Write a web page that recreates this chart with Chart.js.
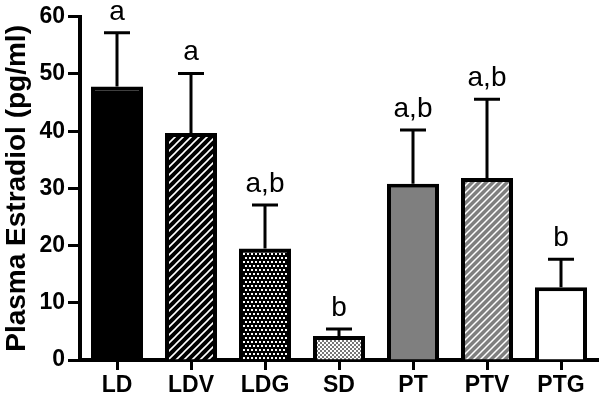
<!DOCTYPE html>
<html>
<head>
<meta charset="utf-8">
<script src="https://cdn.jsdelivr.net/npm/chart.js@4.4.1/dist/chart.umd.min.js"></script>
<style>
  body { margin: 0; background: #fff; }
  canvas { display: block; }
</style>
</head>
<body>
<canvas id="estradiol" width="600" height="394"></canvas>
<script>
// groups and values
const groups = ["LD", "LDV", "LDG", "SD", "PT", "PTV", "PTG"];
const means = [47.8, 39.7, 19.5, 4.2, 30.8, 31.8, 12.7];
const errors = [9.4, 10.4, 7.6, 1.2, 9.4, 13.8, 4.9];
const letters = ["a", "a", "a,b", "b", "a,b", "a,b", "b"];
const yMin = 0, yMax = 60, yStep = 10;

const FONT = "Arial, 'Liberation Sans', sans-serif";

// small helper to make a fill pattern from a tile
function makePattern(size, draw) {
  const c = document.createElement("canvas");
  c.width = size;
  c.height = size;
  const g = c.getContext("2d");
  draw(g, size);
  return c.getContext("2d").createPattern(c, "repeat");
}

function stripes(bg, size, lw) {
  return makePattern(size, function (g, s) {
    g.fillStyle = bg;
    g.fillRect(0, 0, s, s);
    g.strokeStyle = "#fff";
    g.lineWidth = lw;
    g.beginPath();
    g.moveTo(0, s); g.lineTo(s, 0);
    g.moveTo(-2, 2); g.lineTo(2, -2);
    g.moveTo(s - 2, s + 2); g.lineTo(s + 2, s - 2);
    g.stroke();
  });
}

const dotsDark = makePattern(8, function (g, s) {
  g.fillStyle = "#000";
  g.fillRect(0, 0, s, s);
  g.fillStyle = "#fff";
  g.fillRect(1, 1, 2, 2);
  g.fillRect(5, 1, 2, 2);
  g.fillRect(3, 5, 2, 2);
  g.fillRect(7, 5, 1, 2);
  g.fillRect(0, 5, 1, 2);
});

const dotsLight = makePattern(4, function (g, s) {
  g.fillStyle = "#777";
  g.fillRect(0, 0, s, s);
  g.fillStyle = "#fff";
  g.fillRect(0, 0, 2, 2);
  g.fillRect(2, 2, 2, 2);
});

const fills = [
  "#000",
  stripes("#000", 8, 1.6),
  dotsDark,
  dotsLight,
  "#7f7f7f",
  stripes("#7f7f7f", 7, 1.5),
  "#fff",
];

// error bars (upper only) + significance letters
const errorBarPlugin = {
  id: "errorBars",
  afterDatasetsDraw(chart) {
    const ctx = chart.ctx;
    const y = chart.scales.y;
    const meta = chart.getDatasetMeta(0);
    ctx.save();
    ctx.strokeStyle = "#000";
    ctx.lineWidth = 3;
    meta.data.forEach(function (bar, i) {
      const top = y.getPixelForValue(means[i] + errors[i]);
      const base = y.getPixelForValue(means[i]);
      ctx.beginPath();
      ctx.moveTo(bar.x, base);
      ctx.lineTo(bar.x, top);
      ctx.moveTo(bar.x - 13, top);
      ctx.lineTo(bar.x + 13, top);
      ctx.stroke();
      ctx.fillStyle = "#000";
      ctx.font = "28px " + FONT;
      ctx.textAlign = "center";
      ctx.textBaseline = "alphabetic";
      ctx.fillText(letters[i], bar.x, top - 13);
    });
    ctx.restore();
  },
};

new Chart(document.getElementById("estradiol"), {
  type: "bar",
  data: {
    labels: groups,
    datasets: [
      {
        data: means,
        backgroundColor: fills,
        borderColor: "#000",
        borderWidth: 4,
        borderSkipped: "bottom",
        inflateAmount: 0,
        barPercentage: 52 / 74,
        categoryPercentage: 1,
      },
    ],
  },
  options: {
    responsive: false,
    devicePixelRatio: 1,
    animation: false,
    layout: { padding: { top: 15, right: 2, left: 0, bottom: 0 } },
    plugins: {
      legend: { display: false },
      tooltip: { enabled: false },
    },
    scales: {
      x: {
        grid: {
          drawOnChartArea: false,
          offset: false,
          color: "#000",
          tickLength: 10,
          tickWidth: 3,
        },
        border: { color: "#000", width: 4 },
        ticks: {
          color: "#000",
          padding: 2,
          font: { family: FONT, size: 23, weight: "bold" },
        },
        afterFit(scale) {
          scale.height = 34;
        },
      },
      y: {
        min: yMin,
        max: yMax,
        grid: {
          drawOnChartArea: false,
          color: "#000",
          tickLength: 12,
          tickWidth: 3,
        },
        border: { color: "#000", width: 4 },
        ticks: {
          stepSize: yStep,
          color: "#000",
          padding: 3,
          font: { family: FONT, size: 23, weight: "bold" },
        },
        title: {
          display: true,
          text: "Plasma Estradiol (pg/ml)",
          color: "#000",
          padding: 0,
          font: { family: FONT, size: 28, weight: "bold" },
        },
        afterFit(scale) {
          scale.width = 80;
        },
      },
    },
  },
  plugins: [errorBarPlugin],
});
</script>
</body>
</html>
